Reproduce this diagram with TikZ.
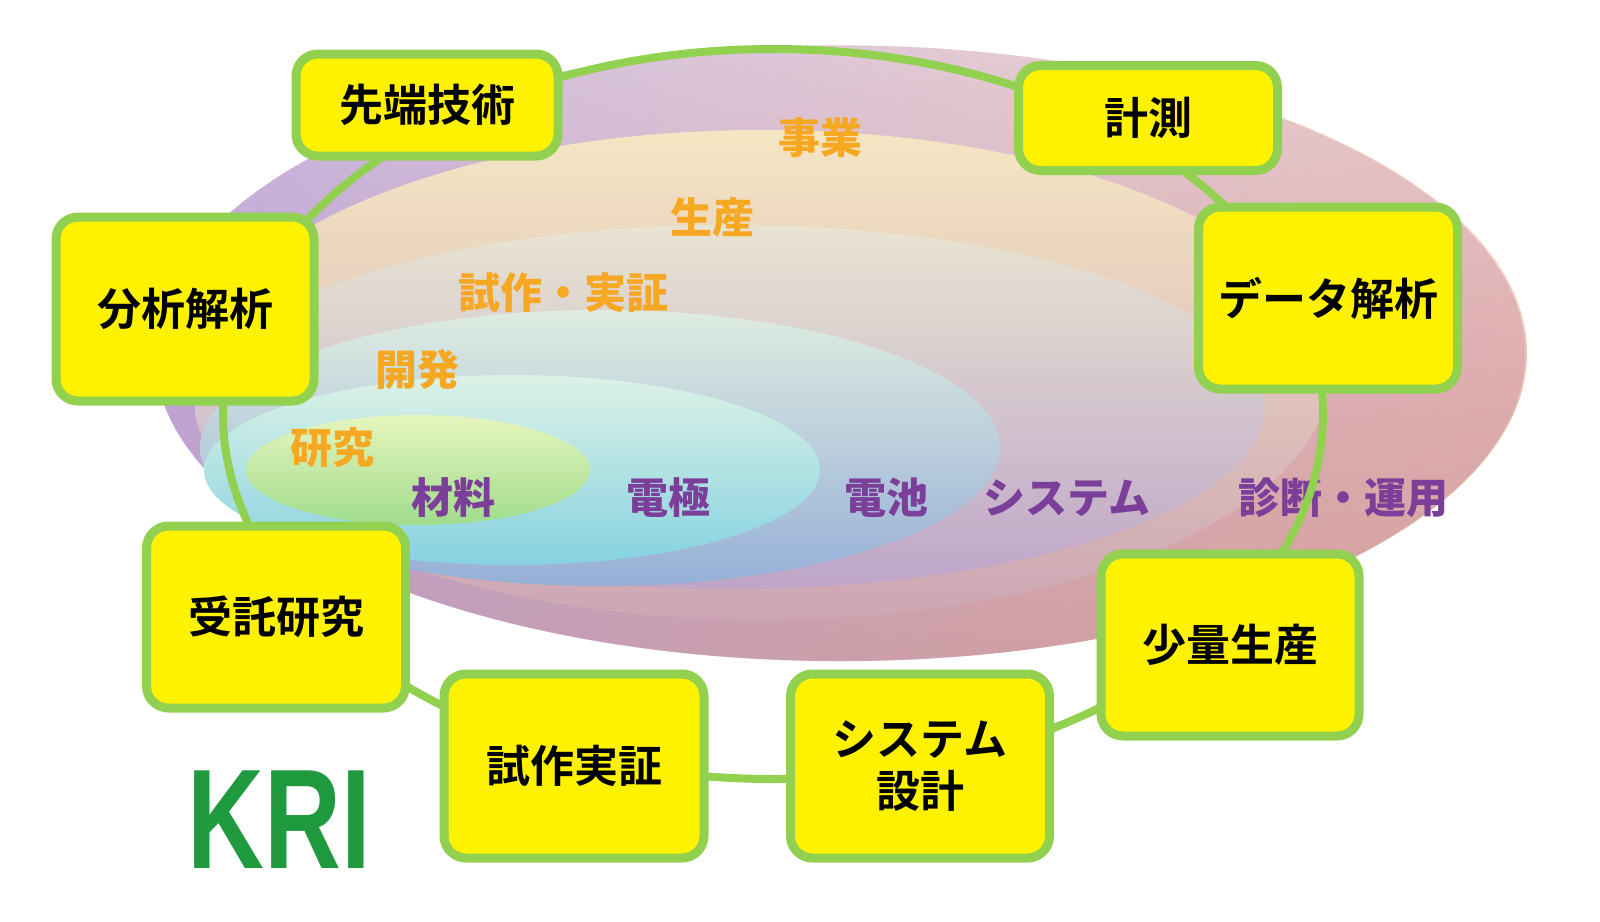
\documentclass[tikz,border=0pt]{standalone}
\usepackage{fontspec}
\usetikzlibrary{fadings}
\newfontfamily\cjk{Noto Sans CJK JP}
\newfontfamily\cjkb{Noto Sans CJK JP Bold}
\newfontfamily\logo{Liberation Sans}
\definecolor{ring}{HTML}{92D050}
\definecolor{org}{HTML}{F7A823}
\definecolor{pur}{HTML}{7B3F9A}
\definecolor{kri}{HTML}{1F9A3E}
\definecolor{tintL}{RGB}{175,150,225}
\definecolor{tintR}{RGB}{215,150,170}
\tikzset{
  kbox/.style={draw=ring,line width=9pt,fill=yellow,rounded corners=22pt,inner sep=0pt,align=center,font=\cjkb\fontsize{44}{52}\selectfont},
  olab/.style={text=org,font=\cjk\bfseries\fontsize{42}{46}\selectfont},
  plab/.style={text=pur,font=\cjk\bfseries\fontsize{42}{46}\selectfont},
}
\begin{document}
\begin{tikzpicture}[x=1pt,y=-1pt]
\useasboundingbox (0,0) rectangle (1600,921);
\fill[white] (0,0) rectangle (1600,921);
% nested ellipses
\shade[top color={rgb,255:red,255;green,255;blue,232},bottom color={rgb,255:red,214;green,168;blue,140},middle color={rgb,255:red,232;green,200;blue,185}] (841,353) ellipse [x radius=686,y radius=308];
\fill[tintL,path fading=east,opacity=0.7] (841,353) ellipse [x radius=686,y radius=308];
\fill[tintR,path fading=west,opacity=0.5] (841,353) ellipse [x radius=686,y radius=308];
\shade[top color={rgb,255:red,245;green,230;blue,195},bottom color={rgb,255:red,205;green,165;blue,180}] (762,375) ellipse [x radius=567,y radius=245];
\shade[top color={rgb,255:red,232;green,228;blue,210},bottom color={rgb,255:red,190;green,165;blue,200}] (730,407) ellipse [x radius=535,y radius=182];
\shade[top color={rgb,255:red,222;green,236;blue,225},bottom color={rgb,255:red,150;green,175;blue,215}] (600,448) ellipse [x radius=400,y radius=138];
\shade[top color={rgb,255:red,220;green,242;blue,230},bottom color={rgb,255:red,135;green,210;blue,225}] (512,470) ellipse [x radius=308,y radius=95];
\shade[top color={rgb,255:red,230;green,245;blue,190},bottom color={rgb,255:red,160;green,220;blue,140}] (418,470) ellipse [x radius=172,y radius=55];
% labels
\node[olab] (l1) at (820,138) {事業};
\node[olab] (l2) at (712,217) {生産};
\node[olab] (l3) at (563,293) {試作・実証};
\node[olab] (l4) at (417,370) {開発};
\node[olab] (l5) at (332,448) {研究};
\node[plab] (p1) at (453,498) {材料};
\node[plab] (p2) at (668,498) {電極};
\node[plab] (p3) at (886,498) {電池};
\node[plab] (p4) at (1067,498) {システム};
\node[plab] (p5) at (1343,498) {診断・運用};
% ring
\draw[ring,line width=8pt] (773,414) ellipse [x radius=550,y radius=365];
% boxes
\node[kbox,minimum width=262pt,minimum height=102pt] (b1) at (427,105) {先端技術};
\node[kbox,minimum width=259pt,minimum height=105pt] (b2) at (1148,118) {計測};
\node[kbox,minimum width=258pt,minimum height=184pt] (b3) at (185,309) {分析解析};
\node[kbox,minimum width=259pt,minimum height=182pt] (b4) at (1328,298) {データ解析};
\node[kbox,minimum width=259pt,minimum height=182pt] (b5) at (276,617) {受託研究};
\node[kbox,minimum width=258pt,minimum height=182pt] (b6) at (1230,645) {少量生産};
\node[kbox,minimum width=260pt,minimum height=184pt] (b7) at (574,766) {試作実証};
\node[kbox,minimum width=259pt,minimum height=184pt] (b8) at (920,766) {システム\\設計};
% logo
\node[text=kri,font=\logo\bfseries\fontsize{142}{150}\selectfont,inner sep=0pt,anchor=base,xscale=0.75] (kri) at (279,868) {KRI};
\end{tikzpicture}
\end{document}
